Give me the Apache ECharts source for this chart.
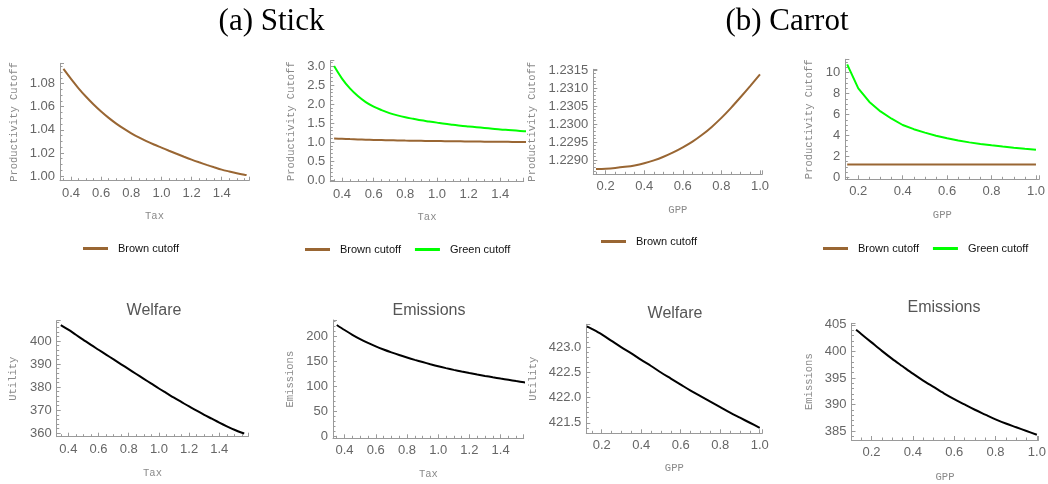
<!DOCTYPE html>
<html><head><meta charset="utf-8">
<script src="https://cdn.jsdelivr.net/npm/echarts@6/dist/echarts.min.js"></script>
<style>html,body{margin:0;padding:0;background:#fff}#c{width:1048px;height:484px}</style>
</head><body><div id="c"></div>
<script>
// ---------- data ----------
const taxX = [0.35,0.40,0.45,0.50,0.55,0.60,0.65,0.70,0.75,0.80,0.85,0.90,0.95,1.00,1.05,1.10,1.15,1.20,1.25,1.30,1.35,1.40,1.45,1.50,1.55,1.565];
const gppX = [0.15,0.20,0.25,0.30,0.35,0.40,0.45,0.50,0.55,0.60,0.65,0.70,0.75,0.80,0.85,0.90,0.95,1.00];
const gppX2 = [0.125,0.15,0.20,0.25,0.30,0.35,0.40,0.45,0.50,0.55,0.60,0.65,0.70,0.75,0.80,0.85,0.90,0.95,1.00];

const stickBrown = [1.0926,1.0840,1.0759,1.0686,1.0619,1.0558,1.0503,1.0454,1.0410,1.0370,1.0334,1.0302,1.0273,1.0246,1.0219,1.0193,1.0167,1.0142,1.0119,1.0097,1.0076,1.0056,1.0040,1.0025,1.0012,1.0009];
const stickGreen = [3.00,2.67,2.41,2.21,2.05,1.93,1.84,1.76,1.70,1.65,1.61,1.57,1.54,1.51,1.48,1.455,1.43,1.41,1.39,1.37,1.35,1.33,1.315,1.30,1.285,1.28];
const stickWelfare = [406.9,404.9,402.7,400.5,398.3,396.2,394.1,392.0,389.9,387.8,385.7,383.6,381.5,379.4,377.4,375.4,373.5,371.6,369.8,368.0,366.3,364.6,363.0,361.5,360.2,359.9];
const stickEmissions = [223,213,203.5,195,187.2,180.2,174,168.3,163,158.1,153.4,149,144.7,140.6,136.9,133.4,130.1,127,124.1,121.3,118.6,116,113.5,111,108.6,107.9];

const carrotBrown = [1.22875,1.22876,1.22878,1.22881,1.22885,1.22891,1.22899,1.22909,1.22921,1.22935,1.22951,1.22970,1.22992,1.23017,1.23045,1.23075,1.23106,1.23138];
const carrotGreen = [10.8,8.5,7.2,6.3,5.6,5.0,4.6,4.27,3.98,3.73,3.52,3.34,3.19,3.06,2.94,2.83,2.73,2.64];
const carrotWelfare = [423.42,423.37,423.26,423.13,423.00,422.88,422.75,422.63,422.50,422.38,422.26,422.14,422.03,421.92,421.81,421.70,421.60,421.50,421.40];
const carrotEmissions = [404.1,403.3,401.7,400.1,398.6,397.2,395.8,394.5,393.3,392.1,391.0,390.0,389.0,388.1,387.2,386.4,385.7,385.0,384.3];

const headers = ['(a) Stick', '(b) Carrot'];
const titles = ['Welfare', 'Emissions', 'Welfare', 'Emissions'];
const BROWN = 'Brown cutoff', GREEN = 'Green cutoff';

// ---------- layout ----------
const panels = [
  {g:[60,63.3,189,117.4],   x:[0.327,1.581,0.2,4,1], y:[0.996,1.0975,0.02,4,2],       xn:'Tax', yn:'Productivity Cutoff', yg:40, xg:30},
  {g:[330.3,60.7,193.4,121],x:[0.326,1.548,0.2,4,1], y:[-0.045,3.14,0.5,5,1],          xn:'Tax', yn:'Productivity Cutoff', yg:34, xg:30},
  {g:[593.3,69.3,169,105],  x:[0.136,1.012,0.2,4,1], y:[1.228603,1.23152,0.0005,5,4],  xn:'GPP', yn:'Productivity Cutoff', yg:56, xg:30},
  {g:[845.3,59.3,194,120],  x:[0.1415,1.015,0.2,4,1],y:[-0.19,11.28,2,4,0],            xn:'GPP', yn:'Productivity Cutoff', yg:31, xg:30},
  {g:[56.7,320.7,191.6,116],x:[0.323,1.592,0.2,4,1], y:[358.5,408.8,10,5,0],           xn:'Tax', yn:'Utility',   yg:38, xg:31},
  {g:[333,320,190.7,118.3], x:[0.326,1.548,0.2,4,1], y:[-3.3,233,50,5,0],              xn:'Tax', yn:'Emissions', yg:37, xg:30},
  {g:[586.3,324.3,176,109], x:[0.122,1.013,0.2,4,1], y:[421.29,423.46,0.5,5,1],        xn:'GPP', yn:'Utility',   yg:48, xg:29},
  {g:[851.5,323.3,187,116.7],x:[0.103,1.008,0.2,4,1],y:[383.3,405.3,5,5,0],            xn:'GPP', yn:'Emissions', yg:37, xg:32}
];

const AX = '#9a9a9a', LBL = '#666', NAME = '#8a8a8a';
function axis(r, name, gap, isY, gi) {
  const [mn, mx, step, minor, dec] = r;
  return {
    type: 'value', gridIndex: gi, min: mn, max: mx, minInterval: step, maxInterval: step,
    name: name, nameLocation: 'middle', nameGap: gap, nameRotate: isY ? 90 : 0,
    nameTextStyle: {fontFamily: 'Liberation Mono', fontSize: 10.5, color: NAME},
    axisLine: {show: true, onZero: false, lineStyle: {color: AX, width: 1}},
    axisTick: {show: true, inside: true, length: 4, lineStyle: {color: AX}},
    minorTick: {show: true, splitNumber: minor, length: 2.5, lineStyle: {color: AX}},
    splitLine: {show: false}, minorSplitLine: {show: false},
    axisLabel: {show: true, margin: isY ? 5 : 6, fontFamily: 'Liberation Sans', fontSize: 13, color: LBL,
      showMinLabel: false, showMaxLabel: false,
      formatter: v => Number(v).toFixed(dec)}
  };
}

const grid = [], xAxis = [], yAxis = [];
panels.forEach((p, i) => {
  grid.push({left: p.g[0], top: p.g[1], width: p.g[2], height: p.g[3], containLabel: false, outerBoundsMode: 'none'});
  xAxis.push(axis(p.x, p.xn, p.xg, false, i));
  yAxis.push(axis(p.y, p.yn, p.yg, true, i));
});

function zip(xs, ys) { return xs.map((x, k) => [x, ys[k]]); }
function line(name, i, xs, ys, color, smooth) {
  return {type: 'line', name: name, xAxisIndex: i, yAxisIndex: i, data: zip(xs, ys),
    symbol: 'none', showSymbol: false, clip: true, smooth: smooth,
    lineStyle: {color: color, width: 2}, itemStyle: {color: color}};
}
const BR = '#996633', GR = '#00ff00', BK = '#000000';
const series = [
  line(BROWN, 0, taxX, stickBrown, BR, 0.3),
  line(BROWN, 1, taxX, stickBrown, BR, 0.3),
  line(GREEN, 1, taxX, stickGreen, GR, 0.3),
  line(BROWN, 2, gppX, carrotBrown, BR, 0.3),
  line(BROWN, 3, gppX, carrotBrown, BR, 0.3),
  line(GREEN, 3, gppX, carrotGreen, GR, false),
  line('Welfare (stick)', 4, taxX, stickWelfare, BK, 0.3),
  line('Emissions (stick)', 5, taxX, stickEmissions, BK, 0.3),
  line('Welfare (carrot)', 6, gppX2, carrotWelfare, BK, 0.3),
  line('Emissions (carrot)', 7, gppX2, carrotEmissions, BK, 0.3)
];

function legend(left, top, names) {
  return {left: left, top: top, padding: 0, itemGap: 14, itemWidth: 25, itemHeight: 3, icon: 'rect',
    selectedMode: false, data: names,
    textStyle: {fontFamily: 'Liberation Sans', fontSize: 11, color: '#111', padding: [0,0,0,5]}};
}

const txt = (x, y, s, font, color) => ({type: 'text', x: x, y: y,
  style: {text: s, font: font, fill: color, textAlign: 'center', textVerticalAlign: 'middle'}});

const chart = echarts.init(document.getElementById('c'), null, {renderer: 'canvas'});
chart.setOption({
  animation: false,
  backgroundColor: '#fff',
  grid: grid, xAxis: xAxis, yAxis: yAxis, series: series,
  legend: [
    legend(83, 243, [BROWN]),
    legend(305, 244, [BROWN, GREEN]),
    legend(601, 236, [BROWN]),
    legend(823, 243, [BROWN, GREEN])
  ],
  graphic: [
    txt(271.5, 22, headers[0], '31px "Liberation Serif"', '#000'),
    txt(787, 22, headers[1], '31px "Liberation Serif"', '#000'),
    txt(154, 311, titles[0], '16px "Liberation Sans"', '#555'),
    txt(429, 311, titles[1], '16px "Liberation Sans"', '#555'),
    txt(675, 314, titles[2], '16px "Liberation Sans"', '#555'),
    txt(944, 308, titles[3], '16px "Liberation Sans"', '#555')
  ]
});
</script></body></html>
